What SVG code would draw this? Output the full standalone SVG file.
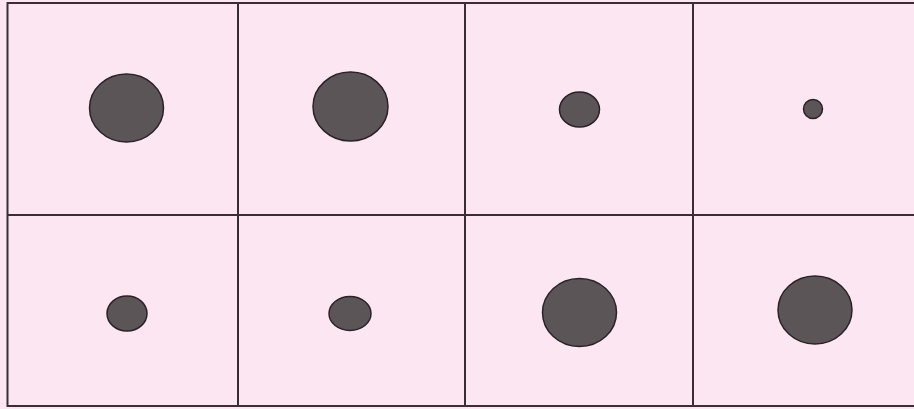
<svg xmlns="http://www.w3.org/2000/svg" width="914" height="409" viewBox="0 0 914 409">
<style>
.bg{fill:#fce6f2}
.grid{stroke:#3a2e34;stroke-width:2;fill:none}
.dot{fill:#5b5557;stroke:#2a2226;stroke-width:1.5}
</style>
<rect class="bg" x="0" y="0" width="914" height="409"/>
<g id="grid">
<line class="grid" x1="7.5" y1="3" x2="914" y2="3"/>
<line class="grid" x1="7.5" y1="406" x2="914" y2="406"/>
<line class="grid" x1="7.5" y1="215" x2="914" y2="215"/>
<line class="grid" x1="7.5" y1="2" x2="7.5" y2="407"/>
<line class="grid" x1="238" y1="2" x2="238" y2="407"/>
<line class="grid" x1="465" y1="2" x2="465" y2="407"/>
<line class="grid" x1="693" y1="2" x2="693" y2="407"/>
</g>
<g id="cell1"><ellipse class="dot" cx="126.5" cy="108" rx="37" ry="34"/></g>
<g id="cell2"><ellipse class="dot" cx="350.5" cy="106.5" rx="37.5" ry="34.5"/></g>
<g id="cell3"><ellipse class="dot" cx="579.5" cy="109.5" rx="20" ry="17.5"/></g>
<g id="cell4"><ellipse class="dot" cx="813" cy="109" rx="9.5" ry="9.5"/></g>
<g id="cell5"><ellipse class="dot" cx="127" cy="313.5" rx="20" ry="17.5"/></g>
<g id="cell6"><ellipse class="dot" cx="350" cy="313.5" rx="21" ry="17"/></g>
<g id="cell7"><ellipse class="dot" cx="579.5" cy="312.5" rx="37" ry="34"/></g>
<g id="cell8"><ellipse class="dot" cx="815" cy="310" rx="37" ry="34"/></g>
</svg>
